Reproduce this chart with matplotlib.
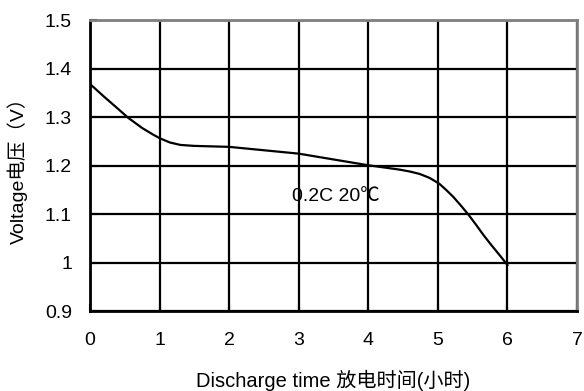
import matplotlib
matplotlib.use("Agg")
import matplotlib.pyplot as plt

plt.rcParams["font.family"] = ["Liberation Sans", "Noto Sans CJK SC", "DejaVu Sans"]

# discharge curve
time_h = [0, 0.2, 0.4, 0.55, 0.75, 0.9, 1.0, 1.15, 1.3, 1.5, 2.0, 2.5,
          3.0, 3.5, 4.0, 4.25, 4.45, 4.6, 4.74, 4.88, 5.02, 5.12, 5.22,
          5.33, 5.44, 5.55, 5.65, 5.77, 5.89, 6.0]
voltage = [1.369, 1.343, 1.318, 1.299, 1.278, 1.265, 1.257, 1.248, 1.243,
           1.241, 1.239, 1.232, 1.225, 1.213, 1.201, 1.196, 1.192, 1.188,
           1.183, 1.175, 1.163, 1.150, 1.136, 1.118, 1.099, 1.078, 1.058,
           1.036, 1.015, 0.995]

x_ticks = [0, 1, 2, 3, 4, 5, 6, 7]
y_ticks = [0.9, 1.0, 1.1, 1.2, 1.3, 1.4, 1.5]
y_tick_labels = ["0.9", "1", "1.1", "1.2", "1.3", "1.4", "1.5"]

fig = plt.figure(figsize=(5.84, 3.91), dpi=100)
ax = fig.add_axes([0.154, 0.2046, 0.834, 0.743])

ax.plot(time_h, voltage, color="black", linewidth=1.6, zorder=3)

ax.set_xlim(0, 7)
ax.set_ylim(0.9, 1.5)
ax.set_xticks(x_ticks)
ax.set_yticks(y_ticks)
ax.set_yticklabels(y_tick_labels)
ax.grid(True, color="black", linewidth=1.6)
ax.set_axisbelow(True)

ax.tick_params(axis="both", direction="in", length=5, width=1.5,
               labelsize=14, color="black")
ax.tick_params(axis="x", pad=15)
ax.tick_params(axis="y", pad=13)

for side in ["left", "bottom"]:
    ax.spines[side].set_color("black")
    ax.spines[side].set_linewidth(2)
for side in ["top", "right"]:
    ax.spines[side].set_color("#808080")
    ax.spines[side].set_linewidth(2)

ax.text(2.9, 1.136, "0.2C 20℃", fontsize=14, va="center", ha="left", zorder=4)

ax.set_xlabel("Discharge time 放电时间(小时)", fontsize=14.5, labelpad=15)
ax.set_ylabel("Voltage电压（V）", fontsize=14, labelpad=12)

plt.savefig("out.png", dpi=100)
